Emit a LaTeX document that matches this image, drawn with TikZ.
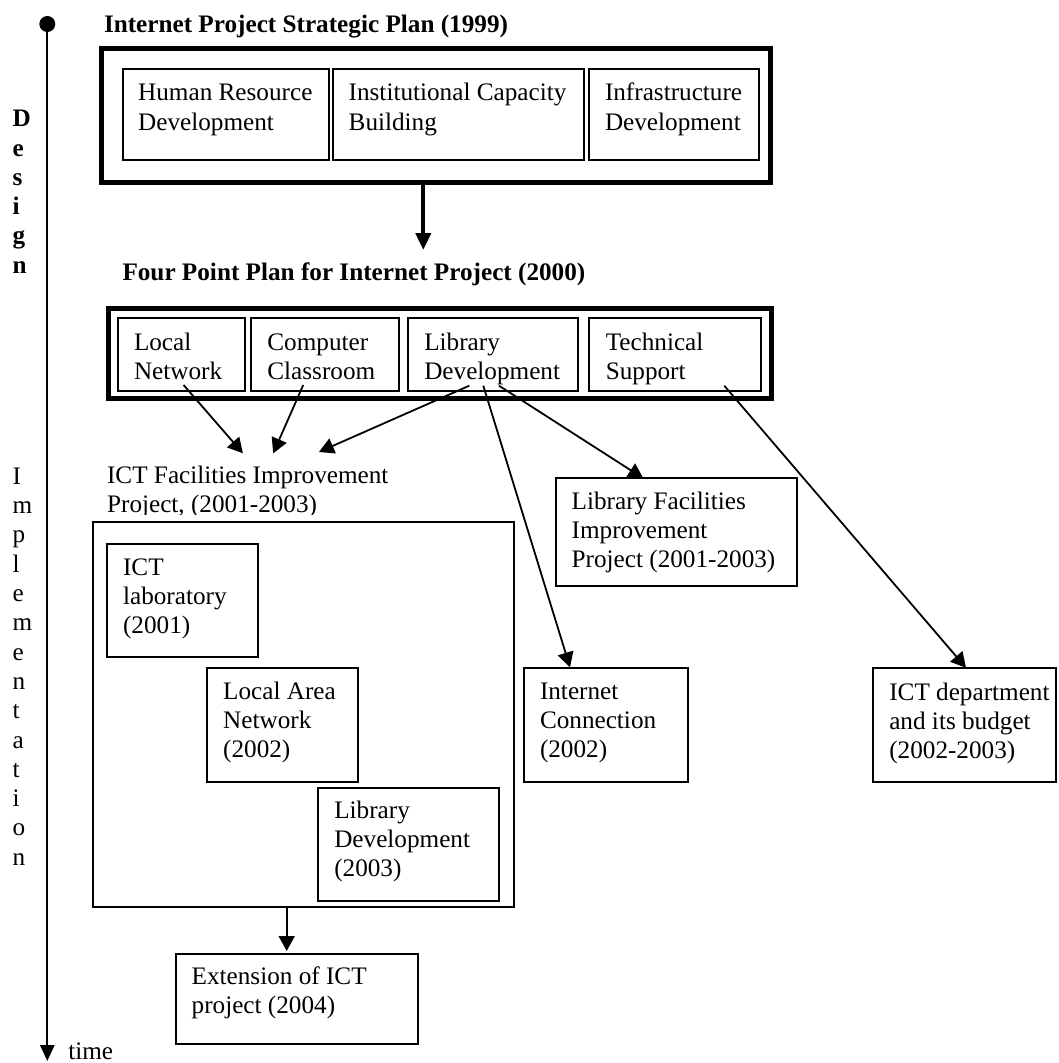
\documentclass[tikz,border=0pt]{standalone}
\usepackage{fontspec}
\setmainfont{Liberation Serif}
\usetikzlibrary{arrows.meta,calc}
\newcommand\bodysize{\fontsize{25.2}{29.3}\selectfont}
\newcommand\stack[1]{\begin{tabular}[t]{@{}l@{}}#1\end{tabular}}

\begin{document}
\begin{tikzpicture}[x=1pt,y=-1pt,
  every node/.style={font=\bodysize},
  box/.style={draw, line width=2pt, inner sep=0pt, outer sep=0pt, anchor=north west},
  frame/.style={draw, line width=5pt, inner sep=0pt, outer sep=0pt, anchor=north west},
  txt/.style={anchor=base west, inner sep=0pt, outer sep=0pt},
  head/.style={font=\bodysize\bfseries, anchor=base west, inner sep=0pt, outer sep=0pt},
  link/.style={line width=1.8pt, -{Triangle[length=15pt,width=16pt]}},
  biglink/.style={line width=4pt, -{Triangle[length=17pt,width=15pt]}},
]
\useasboundingbox (0,0) rectangle (1058,1063);

% time axis
\node[circle, fill, inner sep=0pt, minimum size=16pt] (dot) at (47.3,24) {};
\coordinate (tend) at (47.3,1061);
\draw[line width=2pt, -{Triangle[length=16pt,width=14.3pt]}] (dot.center) -- (tend);
\node[txt] (timelbl) at (68.3,1059) {time};
\node[head] (design) at (12.7,126.7) {\stack{D\\e\\s\\i\\g\\n}};
\node[txt] (impl) at (12.7,484.3) {\stack{I\\m\\p\\l\\e\\m\\e\\n\\t\\a\\t\\i\\o\\n}};

% strategic plan
\node[head] (t1) at (104,32.3) {Internet Project Strategic Plan (1999)};
\node[frame, minimum width=668.7pt, minimum height=134.5pt] (plan1) at (101.3,48) {};
\node[box, minimum width=206.6pt, minimum height=90.7pt] (hr) at (122.7,69.3) {};
\node[box, minimum width=251.3pt, minimum height=90.7pt] (icb) at (332.7,69.3) {};
\node[box, minimum width=170pt, minimum height=90.7pt] (infra) at (589,69.3) {};
\node[txt] (hr-t) at ($(hr.north west)+(15.5,31.4)$) {\stack{Human Resource\\Development}};
\node[txt] (icb-t) at ($(icb.north west)+(16,31.4)$) {\stack{Institutional Capacity\\Building}};
\node[txt] (infra-t) at ($(infra.north west)+(16,31.4)$) {\stack{Infrastructure\\Development}};

\coordinate (p2tip) at (423.3,250);
\draw[biglink] (plan1.south -| p2tip) -- (p2tip);

% four point plan
\node[head] (t2) at (122.5,280.7) {Four Point Plan for Internet Project (2000)};
\node[frame, minimum width=662.8pt, minimum height=90.4pt] (plan2) at (108.2,308.3) {};
\node[box, minimum width=127.5pt, minimum height=72.7pt] (ln) at (117.5,318.3) {};
\node[box, minimum width=147.6pt, minimum height=72.7pt] (cc) at (251.4,318.3) {};
\node[box, minimum width=170pt, minimum height=72.7pt] (ld) at (408.3,318.3) {};
\node[box, minimum width=171.4pt, minimum height=72.7pt] (ts) at (589.3,318.3) {};
\node[txt] (ln-t) at ($(ln.north west)+(16.5,31.7)$) {\stack{Local\\Network}};
\node[txt] (cc-t) at ($(cc.north west)+(16,31.7)$) {\stack{Computer\\Classroom}};
\node[txt] (ld-t) at ($(ld.north west)+(16,31.7)$) {\stack{Library\\Development}};
\node[txt] (ts-t) at ($(ts.north west)+(16.5,31.7)$) {\stack{Technical\\Support}};

% ICT facilities project
\begin{scope}
  \clip (0,0) rectangle (1058,514.5);
  \node[txt] (ictf-t) at (107.1,483.3) {\stack{ICT Facilities Improvement\\Project, (2001-2003)}};
\end{scope}
\node[box, minimum width=421.3pt, minimum height=384.2pt] (ictf) at (92.9,522.3) {};
\node[box, minimum width=151.1pt, minimum height=113pt] (ictlab) at (107.1,544.3) {};
\node[box, minimum width=150.8pt, minimum height=113.4pt] (lan) at (207.2,668.3) {};
\node[box, minimum width=181.4pt, minimum height=113pt] (libdev) at (317.8,787.7) {};
\node[txt] (ictlab-t) at ($(ictlab.north west)+(16,30.7)$) {\stack{ICT\\laboratory\\(2001)}};
\node[txt] (lan-t) at ($(lan.north west)+(16,31)$) {\stack{Local Area\\Network\\(2002)}};
\node[txt] (libdev-t) at ($(libdev.north west)+(16.5,30.6)$) {\stack{Library\\Development\\(2003)}};

\node[box, minimum width=242pt, minimum height=90.2pt] (ext) at (175.7,954) {};
\node[txt] (ext-t) at ($(ext.north west)+(16,30)$) {\stack{Extension of ICT\\project (2004)}};
\coordinate (extin) at ($(ext.north west)+(111,-3)$);
\draw[link] (ictf.south -| extin) -- (extin);

% other projects
\node[box, minimum width=241.3pt, minimum height=107.4pt] (libfac) at (556,478.3) {};
\node[box, minimum width=163.4pt, minimum height=113.6pt] (inet) at (524.3,668.3) {};
\node[box, minimum width=183pt, minimum height=114pt] (ictdept) at (873,668.3) {};
\node[txt] (libfac-t) at ($(libfac.north west)+(15.7,31)$) {\stack{Library Facilities\\Improvement\\Project (2001-2003)}};
\node[txt] (inet-t) at ($(inet.north west)+(15.7,31)$) {\stack{Internet\\Connection\\(2002)}};
\node[txt] (ictdept-t) at ($(ictdept.north west)+(16.3,31.7)$) {\stack{ICT department\\and its budget\\(2002-2003)}};

% connectors from the four points
\coordinate (lnout) at ($(ln.south west)+(66.1,-6)$);
\coordinate (ccout) at ($(cc.south west)+(51.8,-6)$);
\coordinate (ldout1) at ($(ld.south west)+(61,-5.3)$);
\coordinate (ldout2) at ($(ld.south west)+(75,-5.3)$);
\coordinate (ldout3) at ($(ld.south west)+(90.7,-5.3)$);
\coordinate (tsout) at ($(ts.south west)+(135,-5.3)$);
\coordinate (tipA) at ($(ictf-t.base west)+(135.8,-30)$);
\coordinate (tipB) at ($(ictf-t.base west)+(166.1,-30)$);
\coordinate (tipC) at ($(ictf-t.base west)+(211.8,-31.3)$);
\draw[link] (lnout) -- (tipA);
\draw[link] (ccout) -- (tipB);
\draw[link] (ldout1) -- (tipC);
\draw[link] (ldout2) -- ($(inet.north west)+(45.7,-1)$);
\draw[link] (ldout3) -- ($(libfac.north west)+(87.3,0)$);
\draw[link] (tsout) -- ($(ictdept.north west)+(93,-0.5)$);
\end{tikzpicture}
\end{document}
